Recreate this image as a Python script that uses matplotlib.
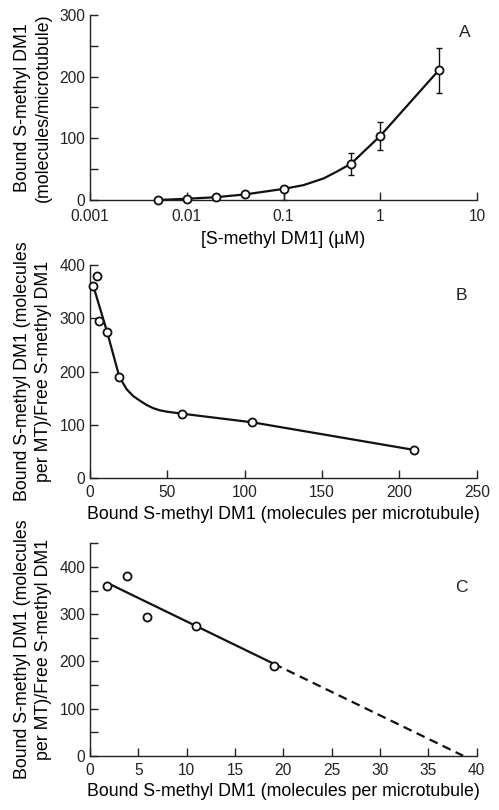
import numpy as np
import matplotlib as mpl
mpl.use('Agg')
import matplotlib.pyplot as plt

plt.rcParams['font.family'] = ['Liberation Sans', 'DejaVu Sans']
plt.rcParams['text.color'] = '#222222'
plt.rcParams['xtick.color'] = '#222222'
plt.rcParams['ytick.color'] = '#222222'

# Panel A: binding vs concentration
conc = [0.005, 0.01, 0.02, 0.04, 0.1, 0.5, 1.0, 4.0]
bound = [0, 2, 4.5, 10, 18, 59, 104, 210]
err_low = [0, 0, 0, 0, 18, 18, 23, 37]
err_high = [0, 4, 0, 0, 4, 18, 23, 37]
curve_a_x = [0.005, 0.01, 0.02, 0.04, 0.1, 0.16, 0.26, 0.355, 0.5, 1.0, 4.0]
curve_a_y = [0, 2, 4.5, 9, 18, 24, 35, 46, 59, 104, 210]

# Panel B: Scatchard, all points
scat_x = [2.2, 4.3, 5.8, 11.2, 19.0, 59.7, 105.0, 209.7]
scat_y = [360, 380, 295, 275, 190, 120, 105, 53]
curve_b_x = [2, 11, 19, 23.7, 28, 32.3, 36.6, 40.9, 45.2, 49.6, 60, 105, 210]
curve_b_y = [362, 275, 190, 167, 154, 145.5, 137.5, 131.5, 127.5, 125, 121, 105, 53]

# Panel C: high affinity points only + linear fit
high_x = [1.8, 3.8, 5.9, 11.0, 19.0]
high_y = [360, 380, 295, 275, 190]
fit_slope = -9.95
fit_intercept = 384.0
fit_x_start = 1.8
fit_x_end = 19.0
fit_x_zero = 38.6

TICK = 11.2
LAB = 12.8

def style(ax):
    for s in ['top', 'right']:
        ax.spines[s].set_visible(False)
    for s in ['left', 'bottom']:
        ax.spines[s].set_linewidth(1.0)
        ax.spines[s].set_color('#222222')
    ax.tick_params(which='both', direction='in', length=6, width=1.0, labelsize=TICK)
    ax.tick_params(axis='x', which='both', pad=5)
    ax.tick_params(axis='y', which='both', pad=3.5)

mk = dict(marker='o', markersize=5.8, markerfacecolor='white', markeredgecolor='#111111',
          markeredgewidth=1.3, linestyle='none', clip_on=False, zorder=3)

ylab_B = 'Bound S-methyl DM1 (molecules\nper MT)/Free S-methyl DM1'
xlab_B = 'Bound S-methyl DM1 (molecules per microtubule)'

fig = plt.figure(figsize=(4.99, 8.10), dpi=100)

# ---- A
axA = fig.add_axes([0.1804, 0.7531, 0.7756, 0.2284])
style(axA)
axA.tick_params(axis='x', which='both', pad=6.5)
axA.set_xscale('log')
axA.plot(curve_a_x, curve_a_y, c='#111111', lw=1.6, clip_on=False, zorder=2)
axA.errorbar(conc, bound, yerr=[err_low, err_high], fmt='none', ecolor='#111111', elinewidth=1.0,
             capsize=2.5, capthick=1.0, clip_on=False, zorder=1)
axA.plot(conc, bound, **mk)
axA.set_xlim(0.001, 10)
axA.set_ylim(0, 300)
axA.set_xticks([0.001, 0.01, 0.1, 1, 10])
axA.set_xticklabels(['0.001', '0.01', '0.1', '1', '10'])
axA.xaxis.set_minor_locator(mpl.ticker.NullLocator())
axA.set_yticks([0, 100, 200, 300])
axA.set_yticks([50, 150, 250], minor=True)
axA.set_xlabel('[S-methyl DM1] (\u00b5M)', fontsize=LAB, labelpad=5)
axA.set_ylabel('Bound S-methyl DM1\n(molecules/microtubule)', fontsize=LAB, labelpad=5,
               linespacing=1.35)
axA.text(0.969, 0.908, 'A', transform=axA.transAxes, fontsize=12.5, ha='center', va='center')

# ---- B
axB = fig.add_axes([0.1804, 0.4095, 0.7749, 0.2633])
style(axB)
axB.plot(curve_b_x, curve_b_y, c='#111111', lw=1.6, zorder=2)
axB.plot(scat_x, scat_y, **mk)
axB.set_xlim(0, 250)
axB.set_ylim(0, 400)
axB.set_xticks([0, 50, 100, 150, 200, 250])
axB.set_yticks([0, 100, 200, 300, 400])
axB.set_xlabel(xlab_B, fontsize=LAB, labelpad=4)
axB.set_ylabel(ylab_B, fontsize=LAB, labelpad=5, linespacing=1.35)
axB.text(0.961, 0.859, 'B', transform=axB.transAxes, fontsize=12.5, ha='center', va='center')

# ---- C
axC = fig.add_axes([0.1804, 0.0670, 0.7749, 0.2622])
style(axC)
xs = np.array([fit_x_start, fit_x_end])
axC.plot(xs, fit_intercept + fit_slope * xs, c='#111111', lw=1.6, zorder=2)
xd = np.array([fit_x_end, fit_x_zero])
axC.plot(xd, fit_intercept + fit_slope * xd, c='#111111', lw=1.6, ls=(0, (4, 2.5)), zorder=2)
axC.plot(high_x, high_y, **mk)
axC.set_xlim(0, 40)
axC.set_ylim(0, 450)
axC.set_xticks(np.arange(0, 41, 5))
axC.set_yticks([0, 100, 200, 300, 400])
axC.set_yticks([50, 150, 250, 350, 450], minor=True)
axC.set_xlabel(xlab_B, fontsize=LAB, labelpad=4)
axC.set_ylabel(ylab_B, fontsize=LAB, labelpad=5, linespacing=1.35)
axC.text(0.961, 0.793, 'C', transform=axC.transAxes, fontsize=12.5, ha='center', va='center')

plt.savefig('out.png', dpi=100)
plt.close()
